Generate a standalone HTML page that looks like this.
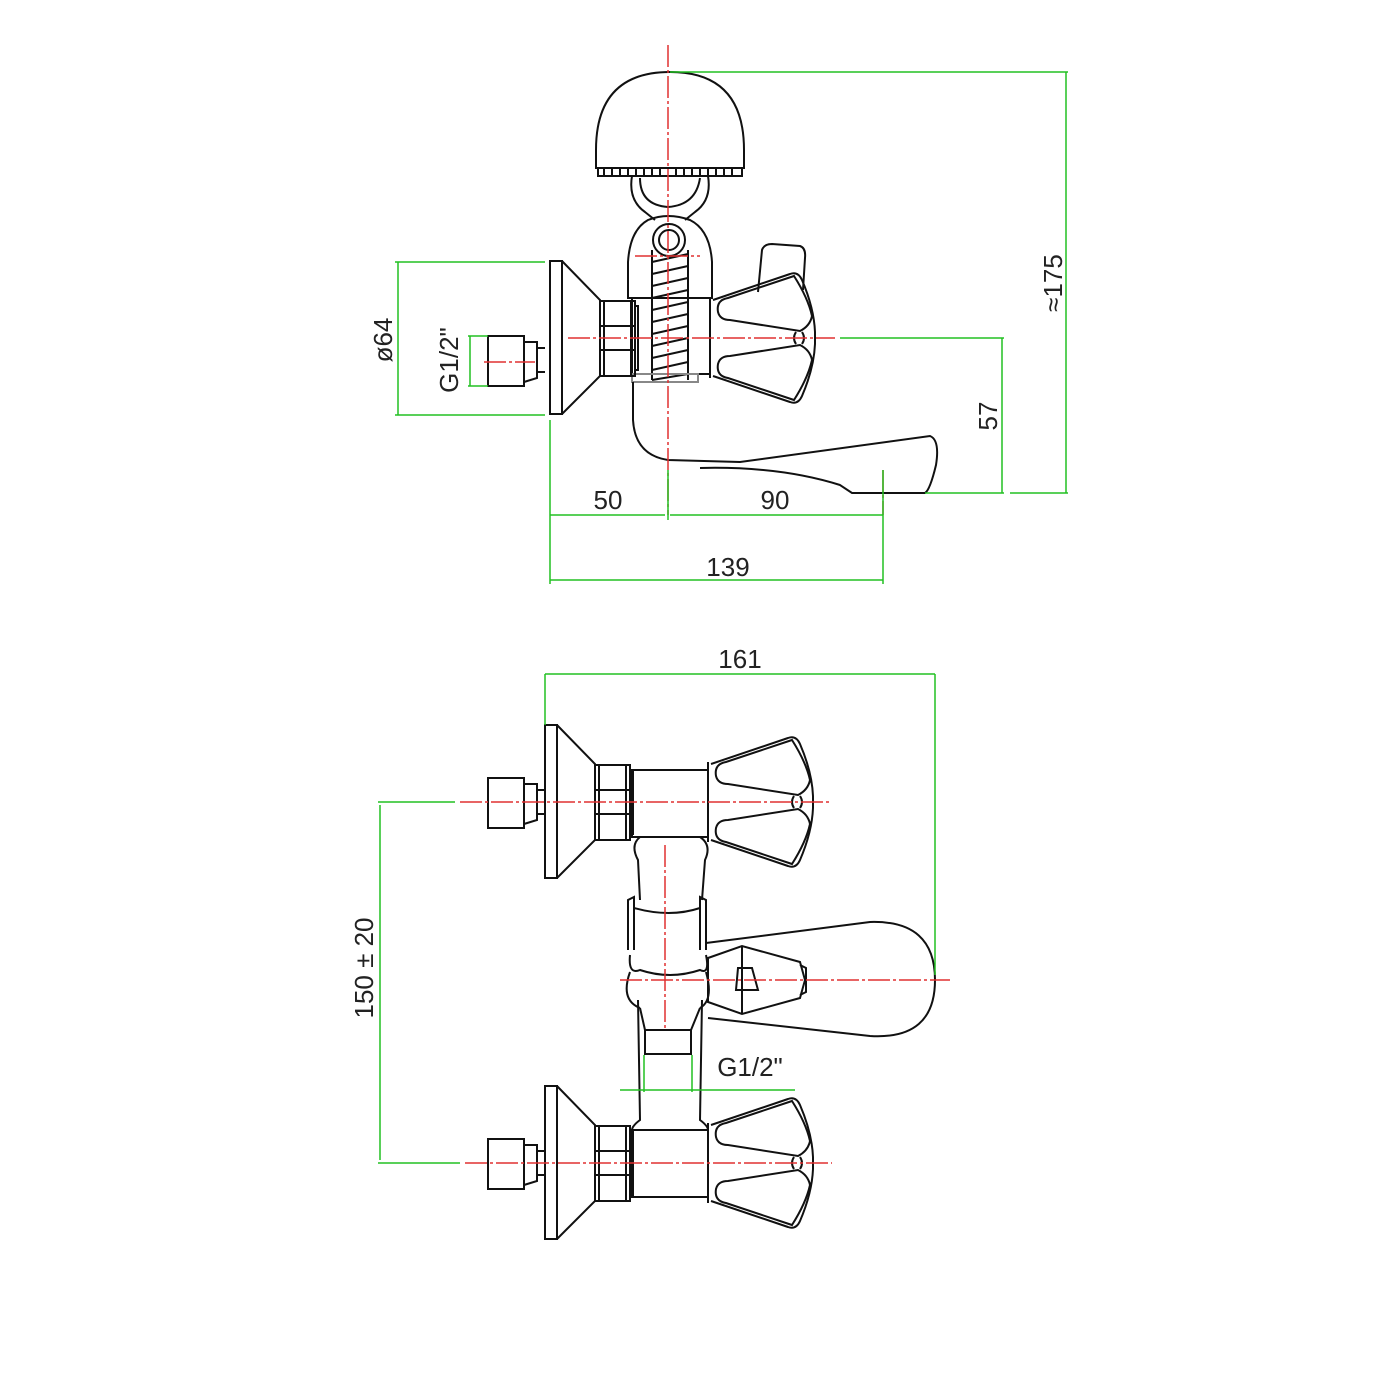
<!DOCTYPE html>
<html><head><meta charset="utf-8"><style>
html,body{margin:0;padding:0;background:#fff}
svg{display:block}
text{font-family:"Liberation Sans",sans-serif;fill:#222}
</style></head><body>
<svg width="1400" height="1400" viewBox="0 0 1400 1400" xmlns="http://www.w3.org/2000/svg">
<defs>
<g id="handle" fill="none" stroke="#111" stroke-width="2">
  <path d="M0,-40 L0,40"/>
  <path d="M3,-38 L80,-64 Q88,-67 92,-58 Q104,-30 105,-6 L105,6 Q104,30 92,58 Q88,67 80,64 L3,38"/>
  <path d="M8,-26 Q6,-38 18,-40 L84,-62 Q98,-40 102,-22 Q100,-12 90,-7 L20,-18 Q10,-18 8,-26Z"/>
  <path d="M8,26 Q6,38 18,40 L84,62 Q98,40 102,22 Q100,12 90,7 L20,18 Q10,18 8,26Z"/>
  <path d="M86,-6 Q82,0 86,6 M92,-6 Q96,0 92,6"/>
</g>
<g id="valve" fill="none" stroke="#111" stroke-width="2">
  <rect x="0" y="-77" width="12" height="153"/>
  <path d="M12,-77 L50,-38 L50,38 L12,76"/>
  <rect x="50" y="-37" width="35" height="75"/>
  <path d="M54,-37 L54,38 M81,-37 L81,38 M50,-12 L85,-12 M50,12 L85,12 M85,-32 L88,-32 L88,32 L85,32"/>
</g>
<g id="inlet" fill="none" stroke="#111" stroke-width="2">
  <rect x="-57" y="-24" width="36" height="50"/>
  <path d="M-21,-18 L-8,-18 L-8,18 L-21,22 M-8,-12 L0,-12 M-8,12 L0,12"/>
</g>
</defs>

<!-- ===== TOP VIEW ===== -->
<g fill="none" stroke="#111" stroke-width="2">
  <path d="M596,168 L596,150 Q596,72 670,72 Q744,72 744,150 L744,168 Z"/>
  <path d="M598,168 L742,168 L742,176 L598,176 Z"/>
  <path d="M604,168 L604,176 M612,168 L612,176 M620,168 L620,176 M628,168 L628,176 M636,168 L636,176 M644,168 L644,176 M652,168 L652,176 M660,168 L660,176 M676,168 L676,176 M684,168 L684,176 M692,168 L692,176 M700,168 L700,176 M708,168 L708,176 M716,168 L716,176 M724,168 L724,176 M732,168 L732,176"/>
  <path d="M632,176 Q628,200 645,212 L655,220 M708,176 Q712,200 695,212 L685,220"/>
  <path d="M640,178 Q640,205 668,207 Q696,205 700,178"/>
  <path d="M648,220 Q668,212 690,220 Q710,230 712,262 L712,298 L628,298 L628,262 Q630,230 648,220Z"/>
  <circle cx="669" cy="240" r="16"/>
  <circle cx="669" cy="240" r="10"/>
  <path d="M652,250 L652,380 M688,250 L688,380"/>
  <path d="M652,262 L688,254 M652,274 L688,266 M652,286 L688,278 M652,298 L688,290 M652,310 L688,302 M652,322 L688,314 M652,334 L688,326 M652,346 L688,338 M652,358 L688,350 M652,370 L688,362 M652,380 L688,374"/>
  <rect x="632" y="298" width="78" height="76"/>
  <rect x="632" y="374" width="66" height="8" stroke="#888"/>
  <path d="M758,292 L762,250 Q764,244 772,244 L800,246 Q806,248 805,258 L803,290"/>
  <path d="M633,382 L633,420 Q635,455 668,460 L740,462 L930,436 Q940,440 936,465 Q930,490 925,493 L852,493 L840,485 Q780,466 700,468"/>
</g>
<use href="#valve" x="550" y="338"/>
<use href="#inlet" x="545" y="360"/>
<use href="#handle" x="710" y="338"/>

<g stroke="#e03030" stroke-width="1.5" stroke-dasharray="22,3,3,3" fill="none">
  <path d="M668,45 L668,515"/>
  <path d="M568,338 L835,338"/>
  <path d="M484,362 L535,362"/>
  <path d="M635,256 L700,256"/>
  <path d="M883,470 L883,515"/>
</g>

<g stroke="#22c022" stroke-width="1.5" fill="none">
  <path d="M670,72 L1068,72 M1066,72 L1066,493 M1010,493 L1068,493"/>
  <path d="M840,338 L1004,338 M1002,338 L1002,493 M925,493 L1004,493"/>
  <path d="M395,262 L545,262 M395,415 L545,415 M398,262 L398,415"/>
  <path d="M468,336 L488,336 M468,386 L488,386 M470,336 L470,386"/>
  <path d="M550,420 L550,584 M668,470 L668,520 M883,470 L883,584"/>
  <path d="M550,515 L665,515 M670,515 L883,515 M550,580 L883,580"/>
</g>
<text x="1062" y="283" font-size="26" transform="rotate(-90 1062 283)" text-anchor="middle">≈175</text>
<text x="997" y="416" font-size="26" transform="rotate(-90 997 416)" text-anchor="middle">57</text>
<text x="392" y="340" font-size="26" transform="rotate(-90 392 340)" text-anchor="middle">ø64</text>
<text x="458" y="360" font-size="26" transform="rotate(-90 458 360)" text-anchor="middle">G1/2"</text>
<text x="608" y="509" font-size="26" text-anchor="middle">50</text>
<text x="775" y="509" font-size="26" text-anchor="middle">90</text>
<text x="728" y="576" font-size="26" text-anchor="middle">139</text>

<!-- ===== BOTTOM VIEW ===== -->
<use href="#valve" x="545" y="802"/>
<use href="#inlet" x="545" y="802"/>
<use href="#valve" x="545" y="1163"/>
<use href="#inlet" x="545" y="1163"/>
<g fill="none" stroke="#111" stroke-width="2">
  <rect x="632" y="770" width="76" height="67"/>
  <rect x="632" y="1130" width="76" height="67"/>
  <path d="M640,837 Q630,845 638,860 L640,900 M700,837 Q712,845 705,860 L702,900"/>
  <path d="M638,1000 L640,1120 Q632,1126 632,1130 M702,1000 L700,1120 Q708,1126 708,1130"/>
  <path d="M628,950 L628,900 L634,897 L634,950 M706,950 L706,900 L700,897 L700,950"/>
  <path d="M634,908 Q670,918 700,908"/>
  <path d="M630,955 Q628,975 640,970 Q670,980 700,970 Q710,975 706,955"/>
  <path d="M630,972 Q620,1000 640,1008 M706,972 Q714,1000 700,1008"/>
  <rect x="645" y="1030" width="46" height="24"/>
  <path d="M640,1008 L645,1030 M700,1008 L691,1030"/>
  <path d="M706,943 L870,922 Q935,920 935,980 Q935,1040 870,1036 L708,1018"/>
  <path d="M708,958 L742,946 L800,962 L805,980 L800,998 L742,1014 L708,1002 Z"/>
  <path d="M742,946 L742,1014"/>
  <path d="M738,968 L752,968 L758,990 L736,990 Z"/>
  <path d="M800,965 L806,968 L806,992 L800,995"/>
</g>
<use href="#handle" x="708" y="802"/>
<use href="#handle" x="708" y="1163"/>

<g stroke="#e03030" stroke-width="1.5" stroke-dasharray="22,3,3,3" fill="none">
  <path d="M460,802 L832,802"/>
  <path d="M465,1163 L832,1163"/>
  <path d="M665,845 L665,1030"/>
  <path d="M620,980 L950,980"/>
</g>
<g stroke="#22c022" stroke-width="1.5" fill="none">
  <path d="M545,674 L935,674 M545,674 L545,725 M935,674 L935,975"/>
  <path d="M378,802 L455,802 M378,1163 L460,1163 M380,805 L380,1160"/>
  <path d="M644,1055 L644,1092 M692,1055 L692,1092 M620,1090 L795,1090"/>
</g>
<text x="740" y="668" font-size="26" text-anchor="middle">161</text>
<text x="373" y="968" font-size="26" transform="rotate(-90 373 968)" text-anchor="middle">150 ± 20</text>
<text x="750" y="1076" font-size="26" text-anchor="middle">G1/2"</text>
</svg>
</body></html>
